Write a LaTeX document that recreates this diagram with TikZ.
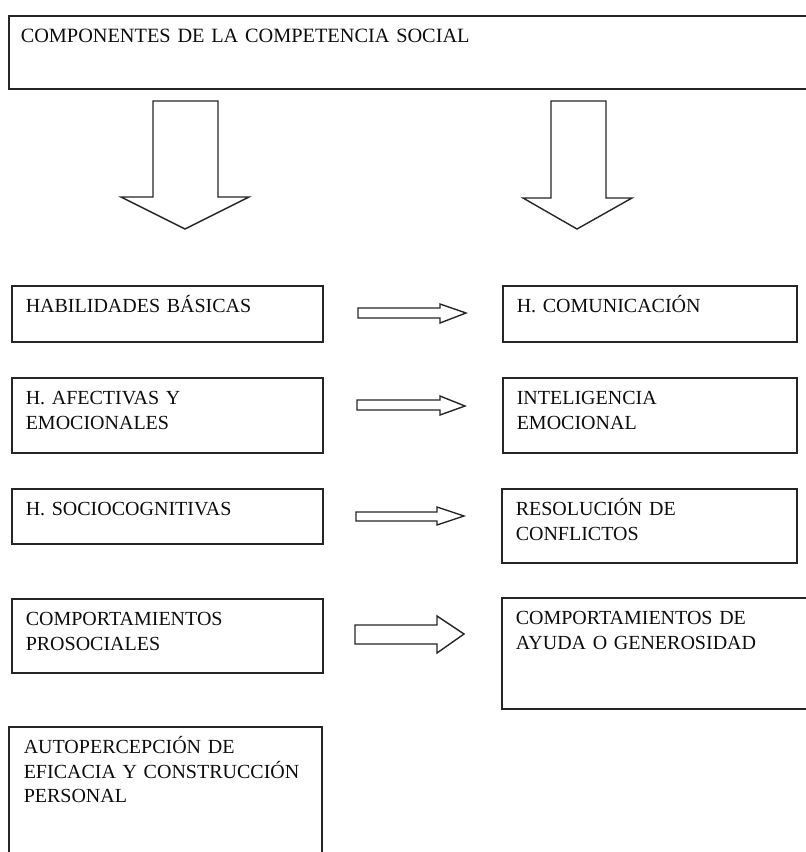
\documentclass[tikz,border=0pt]{standalone}
\usepackage{fontspec}
\setmainfont{Liberation Serif}
\begin{document}
\begin{tikzpicture}[x=1pt,y=-1pt,comp_box/.style={draw=black!85,line width=1.5pt,anchor=north west,align=left,inner xsep=14pt,inner ysep=0pt,text height=27pt,text=black!95,font=\fontsize{20}{25}\selectfont},block_arrow/.style={draw=black!85,line width=1.4pt,fill=white}]
		
		\useasboundingbox (0,0) rectangle (806,852);
		
		\node[comp_box,text width=787pt,text depth=46pt,inner xsep=12pt,font=\fontsize{20.3}{25}\selectfont] (comp) at (8,15) {COMPONENTES DE LA COMPETENCIA SOCIAL};
		
		\node[comp_box,text width=283pt,text depth=29pt] (hab) at (11,285) {HABILIDADES BÁSICAS};
		\node[comp_box,text width=283pt,text depth=48pt] (afe) at (11,377) {H. AFECTIVAS Y\\EMOCIONALES};
		\node[comp_box,text width=283pt,text depth=28pt] (soc) at (11,488) {H. SOCIOCOGNITIVAS};
		\node[comp_box,text width=283pt,text depth=47pt] (pro) at (11,598) {COMPORTAMIENTOS\\PROSOCIALES};
		\node[comp_box,text width=283pt,text depth=113pt,inner xsep=15pt,font=\fontsize{20}{24.5}\selectfont] (aut) at (8,726) {AUTOPERCEPCIÓN DE\\EFICACIA Y CONSTRUCCIÓN\\PERSONAL};
		
		\node[comp_box,text width=266pt,text depth=29pt] (com) at (502,285) {H. COMUNICACIÓN};
		\node[comp_box,text width=266pt,text depth=48pt] (int) at (502,377) {INTELIGENCIA\\EMOCIONAL};
		\node[comp_box,text width=267pt,text depth=47pt] (res) at (501,488) {RESOLUCIÓN DE\\CONFLICTOS};
		\node[comp_box,text width=292pt,text depth=84pt] (ayu) at (501,597) {COMPORTAMIENTOS DE\\AYUDA O GENEROSIDAD};
		
		% down arrows
		\draw[block_arrow] (153,101) -- (218,101) -- (218,197) -- (249,197) -- (185,229) -- (121,197) -- (153,197) -- cycle;
		\draw[block_arrow] (551,101) -- (606,101) -- (606,198) -- (632,198) -- (577,229) -- (523,198) -- (551,198) -- cycle;
		
		% side arrows
		\draw[block_arrow] (358,308) -- (440,308) -- (440,304) -- (466,313) -- (440,323) -- (440,318) -- (358,318) -- cycle;
		\draw[block_arrow] (357,400) -- (440,400) -- (440,396) -- (465,406) -- (440,415) -- (440,410) -- (357,410) -- cycle;
		\draw[block_arrow] (356,512) -- (437,512) -- (437,507) -- (464,516) -- (437,525) -- (437,521) -- (356,521) -- cycle;
		\draw[block_arrow] (355,625) -- (437,625) -- (437,616) -- (464,634) -- (437,653) -- (437,644) -- (355,644) -- cycle;
		\end{tikzpicture}
\end{document}
